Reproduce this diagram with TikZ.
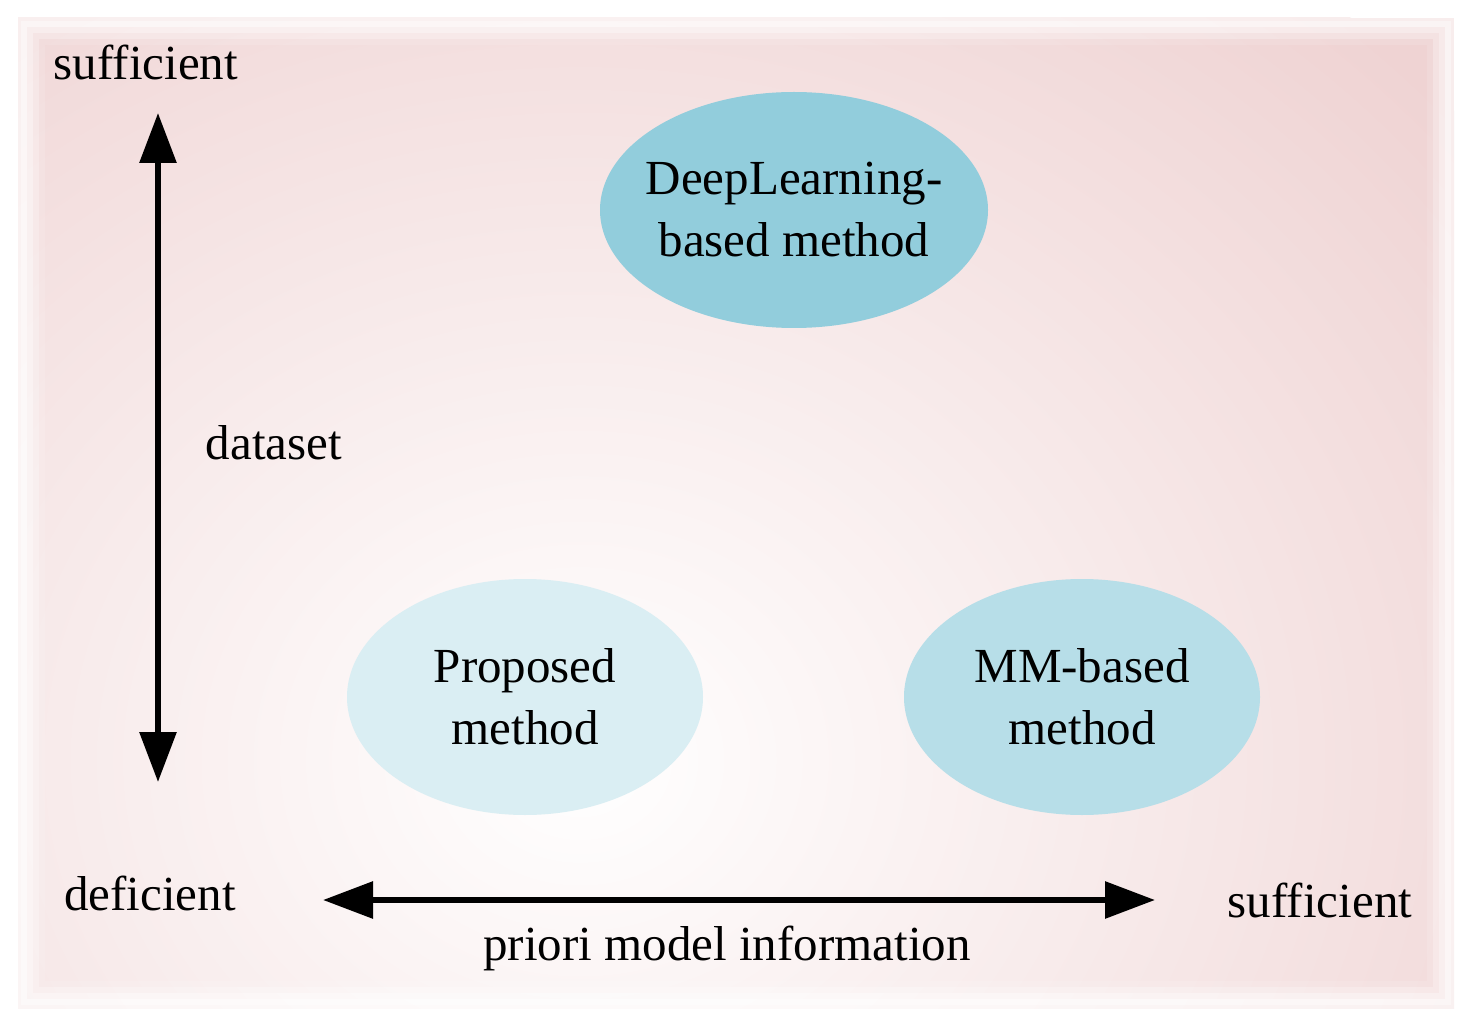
\documentclass[tikz,border=0pt]{standalone}
\usepackage{fontspec}
\setmainfont{Liberation Serif}
\usetikzlibrary{shapes.geometric,arrows.meta}
\definecolor{bgpink}{HTML}{EFD3D3}
\definecolor{dl}{HTML}{92CDDC}
\definecolor{pr}{HTML}{DAEEF3}
\definecolor{mm}{HTML}{B7DEE8}
\begin{document}
\begin{tikzpicture}[x=0.5pt,y=-0.5pt,
  lbl/.style={font=\fontsize{24.5}{28}\selectfont},
  ell/.style={ellipse,inner sep=0pt},
  etxt/.style={align=center,font=\fontsize{24.5}{31}\selectfont},
  arr/.style={line width=3pt,{Triangle[length=25pt,width=18pt]}-{Triangle[length=25pt,width=18pt]}}]
\useasboundingbox (0,0) rectangle (1472,1026);
\fill[white] (0,0) rectangle (1472,1026);
\begin{scope}
\clip (18,18) rectangle (1454,1008);
\fill[bgpink] (18,18) rectangle (1454,1008);
\shade[inner color=white,outer color=bgpink] (580,760) ellipse [x radius=1150, y radius=1000];
\end{scope}
\foreach \i/\o in {0/0.6,6/0.4,12/0.25,18/0.12}
  \draw[white,line width=6pt,opacity=\o] (21+\i,21+\i) rectangle (1451-\i,1005-\i);
\node[ell,fill=dl,minimum width=194pt,minimum height=118pt] (dl) at (794,210) {};
\node[etxt] (dlt) at (dl) {DeepLearning-\\based method};
\node[ell,fill=pr,minimum width=178pt,minimum height=118pt] (pr) at (525,697) {};
\node[etxt] (prt) at (pr) {Proposed\\method};
\node[ell,fill=mm,minimum width=178pt,minimum height=118pt] (mm) at (1082,697) {};
\node[etxt] (mmt) at (mm) {MM-based\\method};
\coordinate (vt) at (158,113);
\coordinate (vb) at (158,782);
\coordinate (hl) at (323,900);
\coordinate (hr) at (1155,900);
\draw[arr] (vt) -- (vb);
\draw[arr] (hl) -- (hr);
\node[lbl] (s1) at (146,62) {sufficient};
\node[lbl] (ds) at (274,443) {dataset};
\node[lbl] (df) at (150,893) {deficient};
\node[lbl] (s2) at (1320,900) {sufficient};
\node[lbl] (pm) at (727,948) {priori model information};
\end{tikzpicture}
\end{document}
